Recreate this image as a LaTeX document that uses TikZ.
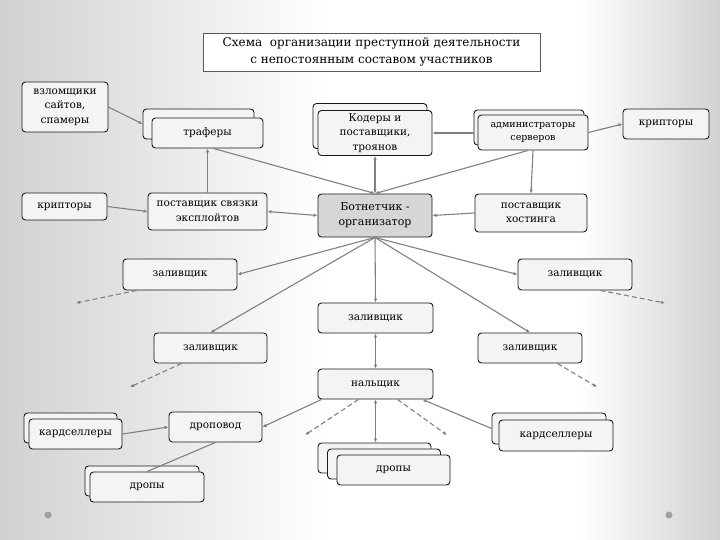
\documentclass[tikz,border=0pt]{standalone}
\usepackage{fontspec}
\setmainfont{DejaVu Serif}
\usepackage{tikz}
\usetikzlibrary{arrows.meta, positioning}
\usepackage{xcolor}
\definecolor{BoxFill}{gray}{0.955}
\definecolor{BossFill}{gray}{0.84}
\definecolor{LinkGray}{gray}{0.50}
\definecolor{BgGray}{gray}{0.82}
\definecolor{EdgeBlack}{gray}{0.10}
\tikzset{%
  box_node/.style={%
    rectangle,%
    rounded corners=3.5pt,%
    draw=EdgeBlack,%
    line width=0.9pt,%
    fill=BoxFill,%
    inner sep=1pt,%
    font={\fontsize{10.5pt}{14.5pt}\selectfont},%
    align=center%
  },
  boss_node/.style={%
    box_node,%
    fill=BossFill,%
    font={\fontsize{11pt}{15pt}\selectfont}%
  },
  title_node/.style={%
    rectangle,%
    draw=gray!70!black,%
    line width=0.7pt,%
    fill=white,%
    font={\fontsize{12pt}{17pt}\selectfont},%
    align=center%
  },
  dot_node/.style={%
    circle,%
    fill=gray!75,%
    inner sep=0pt,%
    minimum size=7pt%
  },
  link_path/.style={%
    draw=LinkGray,%
    line width=1.1pt,%
    line join=round%
  },
  dash_path/.style={%
    link_path,%
    dashed,%
    dash pattern=on 5pt off 3pt%
  },
  arrow/.style={-{Latex[length=4pt, width=3.5pt]}},
  twoway/.style={{Latex[length=4pt, width=3.5pt]}-{Latex[length=4pt, width=3.5pt]}},
}
\begin{document}
\begin{tikzpicture}[x=1pt, y=-1pt]
    \useasboundingbox (0,0) rectangle (720,540);
    % background
    \shade[left color=BgGray, right color=white] (0,0) rectangle (330,540);
    \shade[left color=white, right color=BgGray] (580,0) rectangle (720,540);

    \node[title_node, minimum width=337pt, minimum height=38pt] (Title)
      at (371.5,52)
      {Схема \ организации преступной деятельности\\с непостоянным составом участников};

    % top part
    \node[box_node, minimum width=86pt, minimum height=50pt] (Hackers)
      at (65,107) {взломщики\\сайтов,\\спамеры};
    \node[box_node, minimum width=111pt, minimum height=30pt] (TrafBack)
      at (198.5,124) {};
    \node[box_node, minimum width=111pt, minimum height=30pt] (Traf)
      at (207.5,133) {траферы};
    \node[box_node, minimum width=85pt, minimum height=27pt] (CryptL)
      at (64.5,206.5) {крипторы};
    \node[box_node, minimum width=119pt, minimum height=37pt] (Exploits)
      at (207.5,211.5) {поставщик связки\\эксплойтов};
    \node[boss_node, minimum width=114pt, minimum height=43pt] (Botnet)
      at (375,215.5) {Ботнетчик -\\организатор};
    \node[box_node, minimum width=114pt, minimum height=45pt] (CoderBack)
      at (370,126) {};
    \node[box_node, minimum width=114pt, minimum height=45pt] (Coder)
      at (375,133) {Кодеры и\\поставщики,\\троянов};
    \node[box_node, minimum width=110pt, minimum height=35pt] (AdminBack)
      at (529,127.5) {};
    \node[box_node, minimum width=110pt, minimum height=35pt,
      font={\fontsize{9.5pt}{13pt}\selectfont}] (Admin)
      at (533,132.5) {администраторы\\серверов};
    \node[box_node, minimum width=86pt, minimum height=30pt] (CryptR)
      at (666,124) {крипторы};
    \node[box_node, minimum width=112pt, minimum height=38pt] (Hosting)
      at (531,213) {поставщик\\хостинга};

    % fillers
    \node[box_node, minimum width=114pt, minimum height=31pt] (Fill1)
      at (180,274.5) {заливщик};
    \node[box_node, minimum width=114pt, minimum height=31pt] (Fill2)
      at (575,274.5) {заливщик};
    \node[box_node, minimum width=115pt, minimum height=30pt] (Fill3)
      at (375.5,318) {заливщик};
    \node[box_node, minimum width=113pt, minimum height=30pt] (Fill4)
      at (210.5,348) {заливщик};
    \node[box_node, minimum width=104pt, minimum height=30pt] (Fill5)
      at (530,348) {заливщик};
    \node[box_node, minimum width=115pt, minimum height=30pt] (Cash)
      at (375.5,384) {нальщик};

    % bottom part
    \node[box_node, minimum width=93pt, minimum height=30pt] (Dropper)
      at (215.5,427) {дроповод};
    \node[box_node, minimum width=93pt, minimum height=30pt] (CardLBack)
      at (70.5,428) {};
    \node[box_node, minimum width=93pt, minimum height=30pt] (CardL)
      at (75.5,434) {кардселлеры};
    \node[box_node, minimum width=114pt, minimum height=30pt] (DropsLBack)
      at (142,481) {};
    \node[box_node, minimum width=114pt, minimum height=30pt] (DropsL)
      at (147,487) {дропы};
    \node[box_node, minimum width=113pt, minimum height=30pt] (DropsCBack)
      at (374.5,458) {};
    \node[box_node, minimum width=113pt, minimum height=30pt] (DropsCMid)
      at (384,464) {};
    \node[box_node, minimum width=113pt, minimum height=30pt] (DropsC)
      at (393.5,470) {дропы};
    \node[box_node, minimum width=114pt, minimum height=31pt] (CardRBack)
      at (549,428.5) {};
    \node[box_node, minimum width=114pt, minimum height=31pt] (CardR)
      at (556,435.5) {кардселлеры};

    \node[dot_node] (DotL) at (48,515) {};
    \node[dot_node] (DotR) at (669,515) {};

    % loose ends of the dashed links
    \coordinate (Out1) at (76,303);
    \coordinate (Out2) at (665,303);
    \coordinate (Out4) at (130,387);
    \coordinate (Out5) at (597,387);
    \coordinate (OutCL) at (305,435);
    \coordinate (OutCR) at (447,435);

    % links
    \draw[link_path, arrow]
      (Hackers.east)
      --
      (TrafBack.west);
    \draw[link_path, arrow]
      (CryptL.east)
      --
      (Exploits.west);
    \draw[link_path, arrow]
      (Exploits.north)
      --
      (Traf.south);
    \draw[link_path, twoway]
      (Exploits.east)
      --
      (Botnet.west);
    \draw[link_path, arrow]
      ([xshift=6pt]Traf.south)
      --
      (Botnet.north);
    \draw[link_path, twoway]
      (Coder.south)
      --
      (Botnet.north);
    \draw[link_path, arrow]
      (Coder.east -| AdminBack.west)
      --
      (Coder.east);
    \draw[link_path, arrow]
      ([xshift=-5pt]Admin.south)
      --
      (Botnet.north);
    \draw[link_path, arrow]
      (Admin.south)
      --
      (Hosting.north);
    \draw[link_path, arrow]
      (Admin.east)
      --
      (CryptR.west);
    \draw[link_path, arrow]
      (Hosting.west)
      --
      (Botnet.east);
    \draw[link_path, arrow]
      (Botnet.south)
      --
      (Fill1.east);
    \draw[link_path, arrow]
      (Botnet.south)
      --
      (Fill4.north);
    \draw[link_path, arrow]
      (Botnet.south)
      --
      (Fill3.north);
    \draw[link_path, arrow]
      (Botnet.south)
      --
      (Fill2.west);
    \draw[link_path, arrow]
      (Botnet.south)
      --
      (Fill5.north);
    \draw[link_path, twoway]
      (Fill3.south)
      --
      (Cash.north);
    \draw[dash_path, arrow]
      ([xshift=14pt]Fill1.south west)
      --
      (Out1);
    \draw[dash_path, arrow]
      ([xshift=-32pt]Fill2.south east)
      --
      (Out2);
    \draw[dash_path, arrow]
      ([xshift=28pt]Fill4.south west)
      --
      (Out4);
    \draw[dash_path, arrow]
      ([xshift=-25pt]Fill5.south east)
      --
      (Out5);
    \draw[dash_path, arrow]
      ([xshift=-17pt]Cash.south)
      --
      (OutCL);
    \draw[dash_path, arrow]
      ([xshift=22pt]Cash.south)
      --
      (OutCR);
    \draw[link_path, arrow]
      ([xshift=4pt]Cash.south west)
      --
      (Dropper.east);
    \draw[link_path, arrow]
      (CardRBack.west)
      --
      ([xshift=-11pt]Cash.south east);
    \draw[link_path, twoway]
      (Cash.south)
      --
      (Cash.south |- DropsCBack.north);
    \draw[link_path, arrow]
      (CardL.east)
      --
      (Dropper.west);
    \draw[link_path]
      (Dropper.south)
      --
      (DropsL.north);

  \end{tikzpicture}
\end{document}
